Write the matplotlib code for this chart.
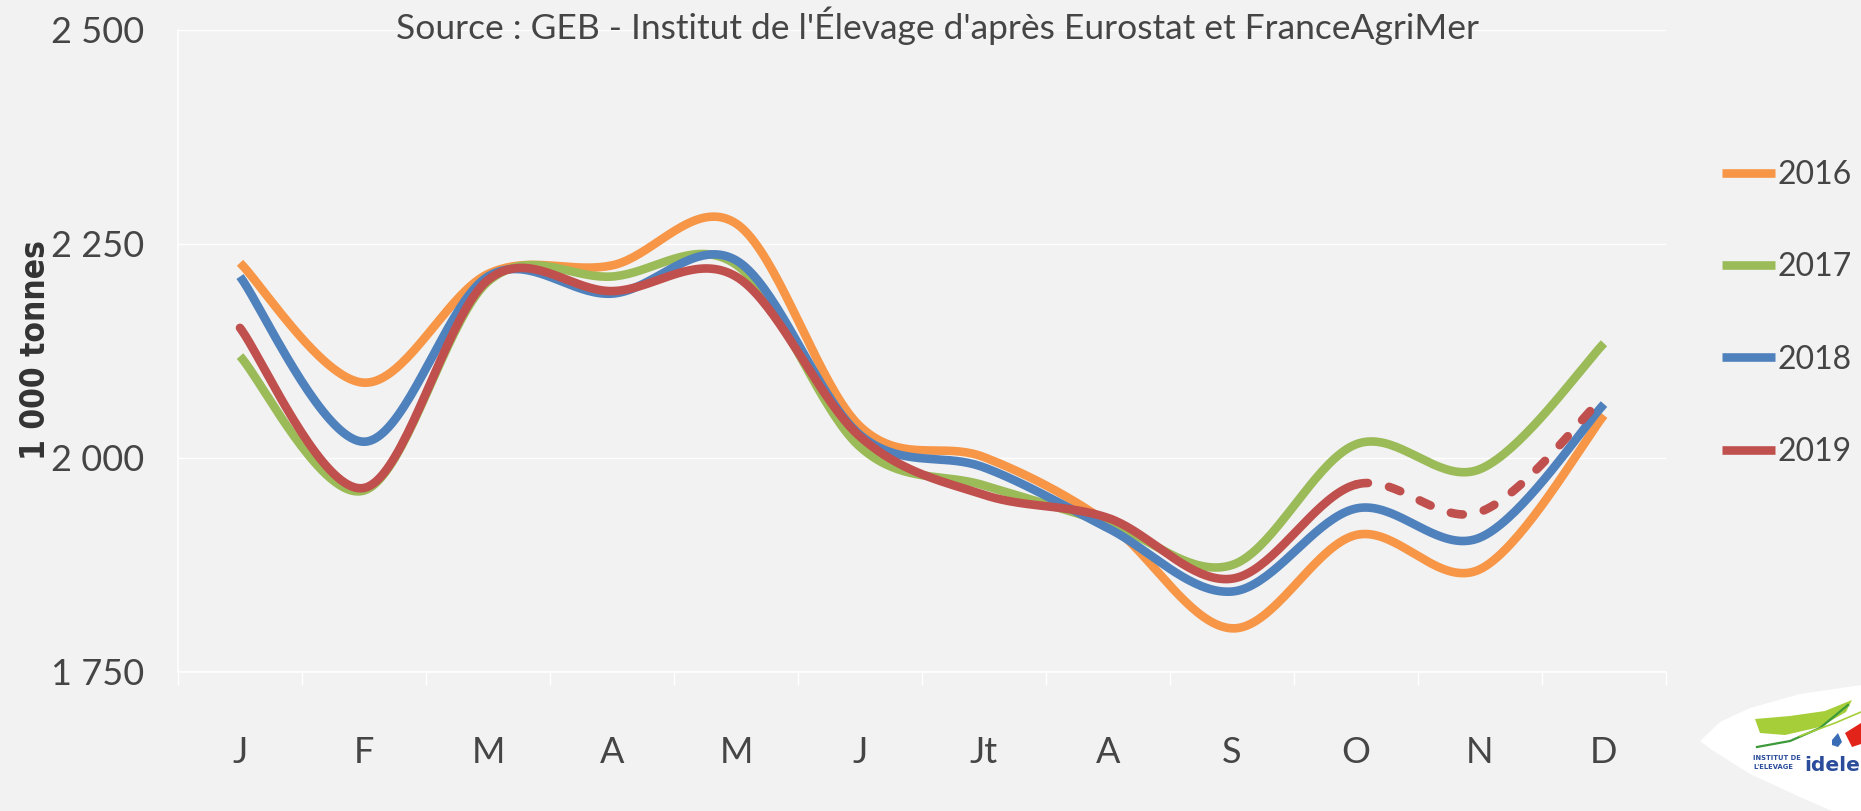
import numpy as np
import matplotlib
matplotlib.use("Agg")
import matplotlib.pyplot as plt
from matplotlib.patches import Polygon
from matplotlib.lines import Line2D

# ---------------- data ----------------
months = ["J", "F", "M", "A", "M", "J", "Jt", "A", "S", "O", "N", "D"]
y2016 = [2228, 2088, 2215, 2225, 2274, 2037, 2001, 1924, 1801, 1910, 1870, 2050]
y2017 = [2119, 1962, 2206, 2212, 2226, 2013, 1968, 1924, 1875, 2016, 1987, 2134]
y2018 = [2212, 2019, 2212, 2192, 2231, 2027, 1989, 1918, 1844, 1941, 1907, 2063]
y2019 = [2152, 1965, 2208, 2195, 2212, 2025, 1957, 1930, 1859, 1969, 1937, 2072]
series_names = ["2016", "2017", "2018", "2019"]
yticks = [1750, 2000, 2250, 2500]
ytick_labels = ["1 750", "2 000", "2 250", "2 500"]
dash_from = 9  # 2019 drawn dashed from October onward
title = "Source : GEB - Institut de l'Élevage d'après Eurostat et FranceAgriMer"
ylabel = "1 000 tonnes"

colors = ["#F79646", "#9BBB59", "#4F81BD", "#C0504D"]
BG = "#F2F2F2"
TXT = "#454545"
W, H = 1861, 811


def smooth(xs, ys, n=40):
    """Excel-like smoothed line: cubic Bezier (Catmull-Rom) through points."""
    P = np.column_stack([xs, ys]).astype(float)
    out = []
    idx = []
    m = len(P)
    for i in range(m - 1):
        p0 = P[i - 1] if i > 0 else P[i]
        p1, p2 = P[i], P[i + 1]
        p3 = P[i + 2] if i + 2 < m else P[i + 1]
        c1 = p1 + (p2 - p0) / 6.0
        c2 = p2 - (p3 - p1) / 6.0
        t = np.linspace(0, 1, n, endpoint=(i == m - 2))[:, None]
        seg = ((1 - t) ** 3) * p1 + 3 * ((1 - t) ** 2) * t * c1 + 3 * (1 - t) * t ** 2 * c2 + t ** 3 * p2
        out.append(seg)
        idx.extend([i] * len(seg))
    C = np.vstack(out)
    return C[:, 0], C[:, 1], np.array(idx)


plt.rcParams["font.family"] = ["Lato", "DejaVu Sans"]

fig = plt.figure(figsize=(W / 100, H / 100), dpi=100, facecolor=BG)
L, R, T, B = 178, 1666, 30, 672
ax = fig.add_axes([L / W, 1 - B / H, (R - L) / W, (B - T) / H])
ax.set_facecolor(BG)

x = np.arange(len(months))
lw = 6.2
all_y = [y2016, y2017, y2018, y2019]
for k, (name, ys, c) in enumerate(zip(series_names, all_y, colors)):
    sx, sy, si = smooth(x, ys)
    if name == "2019":
        solid = si < dash_from
        j = np.argmax(~solid)
        ax.plot(sx[:j + 1], sy[:j + 1], color=c, lw=lw, solid_capstyle="round",
                solid_joinstyle="round", zorder=3 + k)
        ax.plot(sx[j:], sy[j:], color=c, lw=lw, dashes=(1.4, 2.5),
                dash_capstyle="round", zorder=3 + k)
    else:
        ax.plot(sx, sy, color=c, lw=lw, solid_capstyle="butt", zorder=3 + k)

ax.set_xlim(-0.5, len(months) - 0.5)
ax.set_ylim(1750, 2500)

# y axis
ax.set_yticks(yticks)
ax.set_yticklabels(ytick_labels)
ax.tick_params(axis="y", length=0, pad=24, labelsize=26, labelcolor=TXT)
ax.grid(axis="y", color="white", lw=1.0, zorder=0)

# x axis: boundary ticks (major), labels on minor
ax.set_xticks(np.arange(-0.5, len(months), 1.0))
ax.set_xticklabels([])
ax.set_xticks(x, minor=True)
ax.set_xticklabels(months, minor=True)
ax.tick_params(axis="x", which="major", length=9, width=1, color="white", direction="out")
ax.tick_params(axis="x", which="minor", length=0, pad=46, labelsize=26, labelcolor=TXT)

for s in ["top", "right"]:
    ax.spines[s].set_visible(False)
for s in ["left", "bottom"]:
    ax.spines[s].set_color("white")
    ax.spines[s].set_linewidth(1.2)

# title / source
fig.text(938 / W, 1 - 26 / H, title, ha="center", va="center", fontsize=25.5,
         color=TXT)

# y label
fig.text(36 / W, 1 - 350 / H, ylabel, rotation=90, ha="center", va="center",
         fontsize=24, fontweight="bold", color="#333333",
         family=["DejaVu Sans"], fontstretch="condensed")

# legend
handles = [Line2D([], [], color=c, lw=lw, solid_capstyle="butt") for c in colors]
leg = fig.legend(handles, series_names, loc="upper left",
                 bbox_to_anchor=(1722 / W, 1 - 160 / H), frameon=False,
                 handlelength=1.65, handletextpad=0.08,
                 labelspacing=1.95, borderpad=0, borderaxespad=0,
                 prop={"size": 23})
for t in leg.get_texts():
    t.set_color(TXT)

# ---------------- logo (decoration) ----------------
def fpts(pts):
    return [(px / W, 1 - py / H) for px, py in pts]

lens = [(1700, 741), (1720, 722), (1750, 708), (1800, 694), (1861, 685),
        (1861, 811), (1832, 811), (1800, 797), (1750, 774), (1712, 750)]
fig.patches.append(Polygon(fpts(lens), closed=True, transform=fig.transFigure,
                           facecolor="white", edgecolor="none", zorder=1))
swoosh = [(1755, 719), (1790, 716), (1825, 711), (1852, 700),
          (1846, 712), (1820, 727), (1785, 735), (1760, 733)]
fig.patches.append(Polygon(fpts(swoosh), closed=True, transform=fig.transFigure,
                           facecolor="#A6CE39", edgecolor="none", zorder=2))
dg = np.array([(1757, 747), (1790, 741), (1820, 728), (1848, 705)])
fig.lines.append(Line2D(dg[:, 0] / W, 1 - dg[:, 1] / H, transform=fig.transFigure,
                        color="#3C9A3A", lw=1.6, zorder=3))
lg = np.array([(1800, 736), (1835, 723), (1861, 712)])
fig.lines.append(Line2D(lg[:, 0] / W, 1 - lg[:, 1] / H, transform=fig.transFigure,
                        color="#A6CE39", lw=1.2, zorder=3))
red = [(1845, 733), (1861, 723), (1861, 744), (1852, 747)]
fig.patches.append(Polygon(fpts(red), closed=True, transform=fig.transFigure,
                           facecolor="#E2231A", edgecolor="none", zorder=3))
drop = [(1838, 733), (1842, 742), (1838, 747), (1832, 745), (1832, 740)]
fig.patches.append(Polygon(fpts(drop), closed=True, transform=fig.transFigure,
                           facecolor="#3A6DB5", edgecolor="none", zorder=3))
fig.text(1753 / W, 1 - 758 / H, "INSTITUT DE", fontsize=5.4, fontweight="bold",
         color="#2B4C9B", ha="left", va="center", family=["DejaVu Sans"],
         fontstretch="condensed", zorder=4)
fig.text(1753 / W, 1 - 767 / H, "L'ELEVAGE", fontsize=5.4, fontweight="bold",
         color="#2B4C9B", ha="left", va="center", family=["DejaVu Sans"],
         fontstretch="condensed", zorder=4)
fig.text(1860 / W, 1 - 771 / H, "idele", fontsize=14.5, fontweight="bold",
         color="#2B4C9B", ha="right", va="baseline", family=["DejaVu Sans"], zorder=4)

fig.savefig("out.png", dpi=100, facecolor=BG)
